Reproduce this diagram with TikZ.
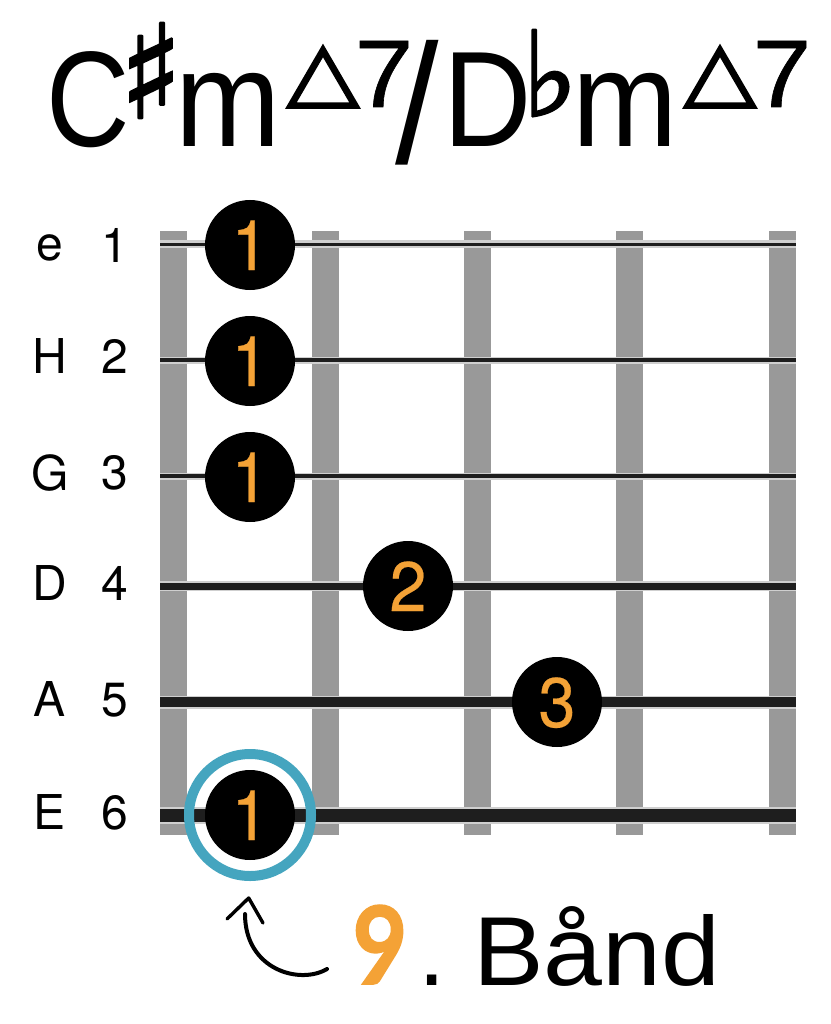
\documentclass[tikz,border=0pt]{standalone}
\usepackage{fontspec}
\setmainfont{Liberation Sans}
\newfontfamily\symfont[FakeBold=2]{DejaVu Sans}
\newfontfamily\trifont[FakeBold=2.5]{DejaVu Sans}
\newfontfamily\digitfont[FakeBold=0.3]{TeX Gyre Heros}
\newfontfamily\labelfont{TeX Gyre Heros}
\newfontfamily\heavyfont[FakeBold=1.5]{Lato}
\newfontfamily\sevenfont[FakeBold=0.6]{Liberation Sans}
\definecolor{fretgray}{HTML}{999999}
\definecolor{halo}{HTML}{CFCFCF}
\definecolor{stringblack}{HTML}{1E1E1E}
\definecolor{dotorange}{HTML}{F4A236}
\definecolor{ringblue}{HTML}{45A5BF}
\tikzset{
  txt/.style={inner sep=0pt,outer sep=0pt,anchor=base,text=black},
  fretbar/.style={fill=fretgray,draw=none},
  fingerdot/.style={circle,fill=black,minimum size=90pt,inner sep=0pt,draw=none},
  fingertext/.style={txt,text=dotorange,xscale=0.95,font=\digitfont\fontsize{70}{70}\selectfont},
  lab/.style={txt,font=\labelfont\fontsize{48}{48}\selectfont},
  titletxt/.style={txt,font=\fontsize{136}{136}\selectfont},
  guitarstring/.style={draw=stringblack,line width=#1},
  stringhalo/.style={draw=halo,line width=#1},
}
\begin{document}
\begin{tikzpicture}[x=1pt,y=-1pt]
\useasboundingbox (0,0) rectangle (830,1024);
\fill[white] (0,0) rectangle (830,1024);
% frets
\foreach \n/\xa in {a/160,b/312,c/464,d/616,e/769}
  \path[fretbar] (\xa,231) rectangle (\xa+27,835);
% strings
\foreach \y/\h/\w in {244/8/3,360/7/3.5,476/7/4,586/10/7,702/13/10.5,815/17/13}{
  \draw[stringhalo=\h pt] (160,\y) -- (796,\y);
  \draw[guitarstring=\w pt] (160,\y) -- (796,\y);
}
% title
\node[titletxt,xscale=0.85] (tC) at (88,147) {C};
\node[txt,xscale=1.0,font=\symfont\fontsize{130}{130}\selectfont] (tsharp) at (151,118) {♯};
\node[titletxt,xscale=0.93] (tm) at (228,147) {m};
\node[txt,xscale=1.05,yscale=0.9,font=\trifont\fontsize{90}{90}\selectfont] (ttri) at (323,98) {△};
\node[txt,xscale=1.1,font=\sevenfont\fontsize{96}{96}\selectfont] (tseven) at (384,107) {7};
\node[titletxt,xscale=1.15,yscale=1.25] (tslash) at (417,164) {/};
\node[titletxt,xscale=0.9] (tD) at (488,147) {D};
\node[txt,font=\symfont\fontsize{118}{118}\selectfont] (tflat) at (550,116) {♭};
\node[titletxt,xscale=0.93] (tmb) at (625,147) {m};
\node[txt,xscale=1.05,yscale=0.9,font=\trifont\fontsize{90}{90}\selectfont] (ttrib) at (720,98) {△};
\node[txt,xscale=1.1,font=\sevenfont\fontsize{96}{96}\selectfont] (tsevenb) at (782,107) {7};
% labels
\node[lab] (le) at (50,260) {e};
\node[lab] (l1) at (115,262) {1};
\node[lab] (lH) at (50,373) {H};
\node[lab] (l2) at (115,373) {2};
\node[lab] (lG) at (50,490) {G};
\node[lab] (l3) at (115,489) {3};
\node[lab] (lD) at (50,600) {D};
\node[lab] (l4) at (115,600) {4};
\node[lab] (lA) at (50,716) {A};
\node[lab] (l5) at (115,716) {5};
\node[lab] (lE) at (50,829) {E};
\node[lab] (l6) at (115,829) {6};
% dots
\foreach \n/\x/\y/\t in {d1/250/245/1,d2/250/361/1,d3/250/477/1,d4/408/586/2,d5/557/702/3,d6/250/815/1}{
  \node[fingerdot] (\n) at (\x,\y) {};
  \node[fingertext] (\n t) at (\x,\y+25) {\t};
}
\node[circle,draw=ringblue,line width=10pt,minimum size=122pt,inner sep=0pt] (ring) at (d6) {};
% fret text
\node[txt,text=dotorange,xscale=0.88,font=\heavyfont\bfseries\fontsize{108}{108}\selectfont] (nine) at (380,984) {9};
\node[txt,anchor=base west,font=\fontsize{98}{98}\selectfont] (bdot) at (418,985) {.};
\node[txt,anchor=base west,xscale=1.08,font=\fontsize{98}{98}\selectfont] (band) at (473,985) {Bånd};
% arrow
\coordinate (as) at (327,969);
\coordinate (at) at (245,914);
\coordinate (tip) at (248.7,898);
\coordinate (hl) at (227,919);
\coordinate (hr) at (263,923);
\draw[line width=4pt,line cap=round] (as) .. controls (300,985) and (245,970) .. (at);
\draw[line width=3.4pt,line cap=round,line join=round] (hl) -- (tip) -- (hr);
\end{tikzpicture}
\end{document}
